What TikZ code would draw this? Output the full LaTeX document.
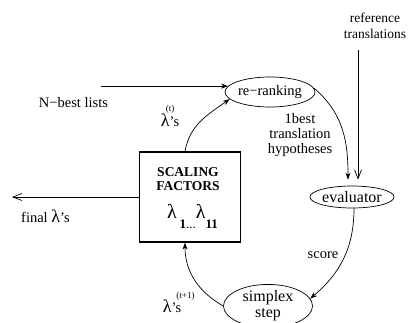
\documentclass[tikz,border=0pt]{standalone}
\usepackage{fontspec}
\setmainfont{Liberation Serif}
\usetikzlibrary{shapes.geometric,arrows.meta}

\begin{document}
\begin{tikzpicture}[x=1pt, y=1pt, line width=0.7pt,
    every node/.style={font=\fontsize{14.5}{15}\selectfont, inner sep=0pt},
    bubble/.style={draw, ellipse, inner sep=0pt},
    arr/.style={-{Stealth[length=7pt,width=5pt]}},
    openarr/.style={-{Straight Barb[length=9pt,width=7pt]}}]
    \useasboundingbox (0,0) rectangle (412,322);

    % Box mit den Skalierungsfaktoren
    \node[draw, line width=1.3pt, minimum width=101pt, minimum height=90pt] (factors) at (190,125) {};
    \node[font=\fontsize{13.5}{14}\selectfont\bfseries, align=center] (factorstitle) at (188,143) {SCALING\\FACTORS};
    \node[anchor=base, font=\fontsize{20}{20}\selectfont] (lambdas) at (192.5,104)
        {λ\hspace{3pt}\raisebox{-10pt}{\fontsize{13}{13}\selectfont\bfseries 1}\raisebox{-10pt}{\fontsize{13}{13}\selectfont...}λ\raisebox{-10pt}{\fontsize{13}{13}\selectfont\bfseries 11}};

    % Ellipsen
    \node[bubble, minimum width=88pt, minimum height=30pt] (rerank) at (270,230) {re−ranking};
    \node[bubble, minimum width=74pt, minimum height=22pt, font=\fontsize{16}{16}\selectfont] (evaluator) at (352,125) {evaluator};
    \node[bubble, minimum width=89pt, minimum height=34pt, font=\fontsize{16}{16}\selectfont, align=center] (simplex) at (268,16) {simplex\\step};

    % Beschriftungen
    \node (nbest) at (73.5,219) {N−best lists};
    \node[align=center, font=\fontsize{13.5}{16}\selectfont] (refs) at (375,296.5) {reference\\translations};
    \node[align=center] (hyp) at (300,187) {1best\\translation\\hypotheses};
    \node (score) at (323,67) {score};
    \node (final) at (45.5,106) {final \fontsize{18}{18}\selectfont λ\fontsize{14.5}{15}\selectfont's};
    \node (lamt) at (170,202) {\fontsize{18}{18}\selectfont λ\fontsize{14.5}{15}\selectfont's};
    \node[font=\fontsize{9}{9}\selectfont] (lamtsup) at (170,213) {(t)};
    \node (lamtt) at (172,16) {\fontsize{18}{18}\selectfont λ\fontsize{14.5}{15}\selectfont's};
    \node[font=\fontsize{9}{9}\selectfont] (lamttsup) at (185.5,26) {(t+1)};

    \coordinate (nbestin) at (101,0);
    \coordinate (refin) at (358,272);
    \coordinate (finalout) at (12,125);

    % Pfeile
    \draw[arr] (nbestin |- rerank.172) -- (rerank.172);
    \draw[arr] ([xshift=-5pt]factors.north) to[out=80,in=215] (rerank.190);
    \draw[arr, shorten >=6pt] (rerank.5) to[out=-40,in=90] ([xshift=-4pt]evaluator.north);
    \draw[openarr, shorten >=6pt] (refin) -- (refin |- evaluator.north);
    \draw[arr] ([xshift=2pt]evaluator.south) to[out=-90,in=40] (simplex.10);
    \draw[arr] (simplex.west) to[out=150,in=-90] ([xshift=-5pt]factors.south);
    \draw[openarr] (factors.west) -- (finalout);
\end{tikzpicture}
\end{document}
